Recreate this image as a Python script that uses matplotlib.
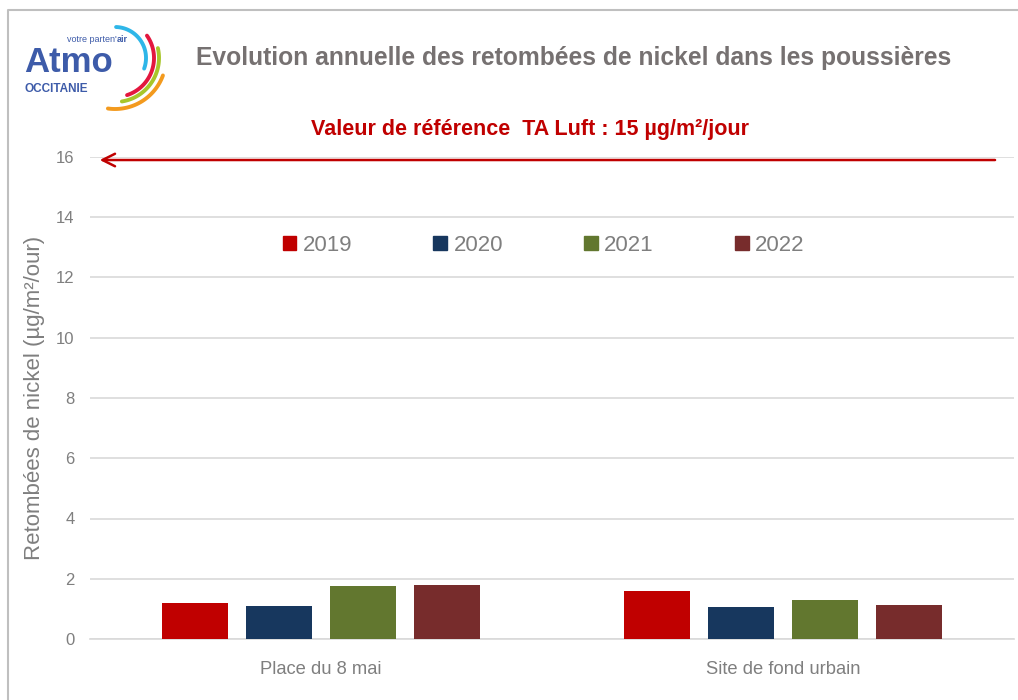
import numpy as np
import matplotlib
matplotlib.use("Agg")
import matplotlib.pyplot as plt
from matplotlib.patches import Rectangle

# ---- data ----
categories = ["Place du 8 mai", "Site de fond urbain"]
years = ["2019", "2020", "2021", "2022"]
v2019 = [1.20, 1.60]
v2020 = [1.10, 1.06]
v2021 = [1.76, 1.30]
v2022 = [1.80, 1.13]
series = [v2019, v2020, v2021, v2022]
colors = ["#C00000", "#17375E", "#62772F", "#772C2C"]
ref_arrow_y = 15.9
yticks = [0, 2, 4, 6, 8, 10, 12, 14, 16]

FONT = ["Liberation Sans Narrow", "Liberation Sans", "DejaVu Sans"]
plt.rcParams["font.family"] = FONT

W, H = 1018, 700
fig = plt.figure(figsize=(W / 100, H / 100), dpi=100)
fig.patch.set_facecolor("white")

# main axes: px 90..1014 horizontally, 157..639 vertically
ax = fig.add_axes([90 / W, 1 - 639 / H, (1014 - 90) / W, (639 - 157) / H])
x = np.arange(len(categories))
slot = 0.182
bw = 0.143
for i, (vals, c, yr) in enumerate(zip(series, colors, years)):
    ax.bar(x + (i - 1.5) * slot, vals, width=bw, color=c, label=yr, zorder=3)

ax.set_xlim(-0.5, 1.5)
ax.set_ylim(0, 16)
ax.set_yticks(yticks)
ax.set_yticklabels([str(t) for t in yticks])
ax.yaxis.grid(True, color="#D9D9D9", linewidth=1.2, zorder=0)
ax.set_axisbelow(True)
for s in ["top", "right", "left"]:
    ax.spines[s].set_visible(False)
ax.spines["bottom"].set_color("#D9D9D9")
ax.spines["bottom"].set_linewidth(1.2)
ax.tick_params(axis="y", length=0, pad=11, labelsize=12, labelcolor="#7F7F7F")
ax.tick_params(axis="x", length=0, pad=16, labelsize=13.2, labelcolor="#7F7F7F")
ax.set_xticks(x)
ax.set_xticklabels(categories)
ax.set_ylabel("Retombées de nickel (µg/m²/our)", fontsize=16, color="#7F7F7F", labelpad=8)

# reference arrow
ax.annotate("", xy=(-0.485, ref_arrow_y), xytext=(1.465, ref_arrow_y),
            arrowprops=dict(arrowstyle="->,head_length=0.9,head_width=0.45",
                            color="#C00000", lw=1.8), zorder=5)

# legend
handles = [Rectangle((0, 0), 1, 1, color=c) for c in colors]
leg = ax.legend(handles, years, loc="center", bbox_to_anchor=(0.491, 0.817), ncol=4,
                frameon=False, fontsize=16, handlelength=0.6, handleheight=0.6,
                handletextpad=0.3, columnspacing=3.66)
for t in leg.get_texts():
    t.set_color("#7F7F7F")

# texts
fig.text(574 / W, 1 - 58 / H, "Evolution annuelle des retombées de nickel dans les poussières",
         ha="center", va="center", fontsize=17.7, fontweight="bold", color="#767171")
fig.text(530 / W, 1 - 130 / H, "Valeur de référence  TA Luft : 15 µg/m²/jour",
         ha="center", va="center", fontsize=15.5, fontweight="bold", color="#C00000")

# overlay for logo and frame (pixel coordinates)
ov = fig.add_axes([0, 0, 1, 1], zorder=-1)
ov.set_xlim(0, W)
ov.set_ylim(H, 0)
ov.axis("off")
ov.plot([8, 8, W], [H, 10, 10], color="#BFBFBF", lw=1.5)

LOGO = ["Liberation Sans", "DejaVu Sans"]
ov.text(24, 72, "Atmo", fontsize=25, fontweight="bold", color="#3D5BA9",
        family=LOGO, ha="left", va="baseline")
ov.text(128, 42, "air", fontsize=6.5, color="#3D5BA9", fontweight="bold",
        family=LOGO, ha="right", va="baseline")
ov.text(117, 42, "votre parten'", fontsize=6.5, color="#3D5BA9",
        family=LOGO, ha="right", va="baseline")
ov.text(25, 92, "OCCITANIE", fontsize=8.5, fontweight="bold", color="#3D5BA9",
        family=LOGO, ha="left", va="baseline")
arcs = [(31, 88, -20, "#2EB6E8"), (39, 35, -72, "#E3173E"),
        (44, 13, -81, "#A8C62B"), (51, -20, -98, "#F39A1E")]
cx, cy = 115, 58
for r, a1, a2, c in arcs:
    t = np.radians(np.linspace(a2, a1, 60))
    ov.plot(cx + r * np.cos(t), cy - r * np.sin(t), color=c, lw=2.8, solid_capstyle="round")

fig.savefig("out.png", dpi=100, facecolor="white")
